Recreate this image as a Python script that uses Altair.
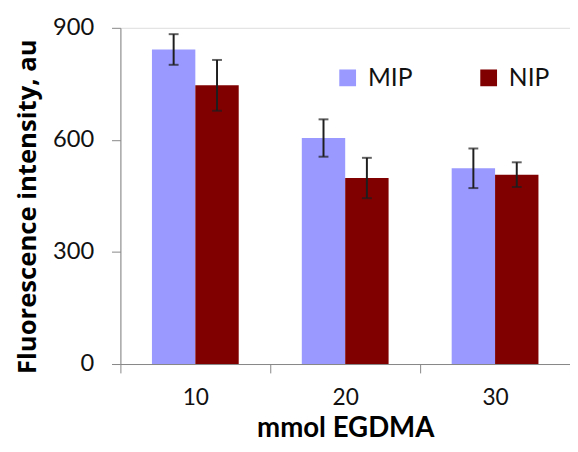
import altair as alt
import pandas as pd

categories = ["10", "20", "30"]
series = ["MIP", "NIP"]
mip_values = [842, 605, 524]
nip_values = [746, 498, 507]
mip_errors = [41, 50, 53]
nip_errors = [68, 54, 33]
y_ticks = [0, 300, 600, 900]
colors = ["#9999FF", "#800000"]

rows = []
for i, c in enumerate(categories):
    rows.append(dict(cat=c, series="MIP", value=mip_values[i], err=mip_errors[i]))
    rows.append(dict(cat=c, series="NIP", value=nip_values[i], err=nip_errors[i]))
df = pd.DataFrame(rows)
df["lo"] = df["value"] - df["err"]
df["hi"] = df["value"] + df["err"]

FONT = "Lato"
W, H = 456, 341
AX = "#868686"

x_enc = alt.X(
    "cat:N", sort=categories,
    scale=alt.Scale(paddingInner=0, paddingOuter=0),
    axis=alt.Axis(
        title="mmol EGDMA", tickBand="extent", labelAngle=0,
        labelFont=FONT, labelFontSize=23, labelColor="#111", labelPadding=14,
        tickSize=9, tickColor=AX, domainColor=AX, tickWidth=1, domainWidth=1,
        titleFont=FONT, titleFontSize=28, titleFontWeight="bold", titleColor="#000",
        titleBaseline="alphabetic", titleY=74, titleX=W / 2,
    ),
)
xo_enc = alt.XOffset("series:N", sort=series,
                     scale=alt.Scale(paddingInner=0, paddingOuter=0.727))

y_axis = alt.Axis(
    values=y_ticks, grid=False, title="Fluorescence intensity, au",
    labelFont=FONT, labelFontSize=24, labelColor="#111", labelPadding=18,
    tickSize=9, tickColor=AX, domainColor=AX, tickWidth=1, domainWidth=1,
    titleFont="Open Sans", titleFontSize=26, titleFontWeight="bold", titleColor="#000",
    titleAngle=270, titleBaseline="alphabetic", titleAlign="center",
    titleX=-86, titleY=181,
)
y_scale = alt.Scale(domain=[0, 900], nice=False)

base = alt.Chart(df)

bars = base.mark_bar().encode(
    x=x_enc, xOffset=xo_enc,
    y=alt.Y("value:Q", scale=y_scale, axis=y_axis),
    color=alt.Color(
        "series:N", sort=series,
        scale=alt.Scale(domain=series, range=colors),
        legend=alt.Legend(
            orient="none", legendX=218, legendY=38, direction="horizontal",
            title=None, symbolType="square", symbolSize=289, symbolStrokeWidth=0,
            symbolOpacity=1, labelFont=FONT, labelFontSize=25, labelColor="#111",
            labelOffset=8, columnPadding=64, padding=0,
        ),
    ),
)

ERR = "#1e1e1e"
rules = base.mark_rule(color=ERR, strokeWidth=2).encode(
    x=x_enc, xOffset=xo_enc,
    y=alt.Y("lo:Q", scale=y_scale, axis=y_axis), y2="hi:Q",
)
caps_hi = base.mark_tick(color=ERR, size=10, thickness=2).encode(
    x=x_enc, xOffset=xo_enc, y=alt.Y("hi:Q", scale=y_scale, axis=y_axis),
)
caps_lo = base.mark_tick(color=ERR, size=10, thickness=2).encode(
    x=x_enc, xOffset=xo_enc, y=alt.Y("lo:Q", scale=y_scale, axis=y_axis),
)

chart = alt.layer(bars, rules, caps_hi, caps_lo).properties(
    width=W, height=H,
    autosize=alt.AutoSizeParams(type="none"),
    padding={"left": 114, "top": 17, "right": 0, "bottom": 78},
).configure_view(stroke=None).configure(background="white")

chart.save("out.html", embed_options={"renderer": "svg", "actions": False})
